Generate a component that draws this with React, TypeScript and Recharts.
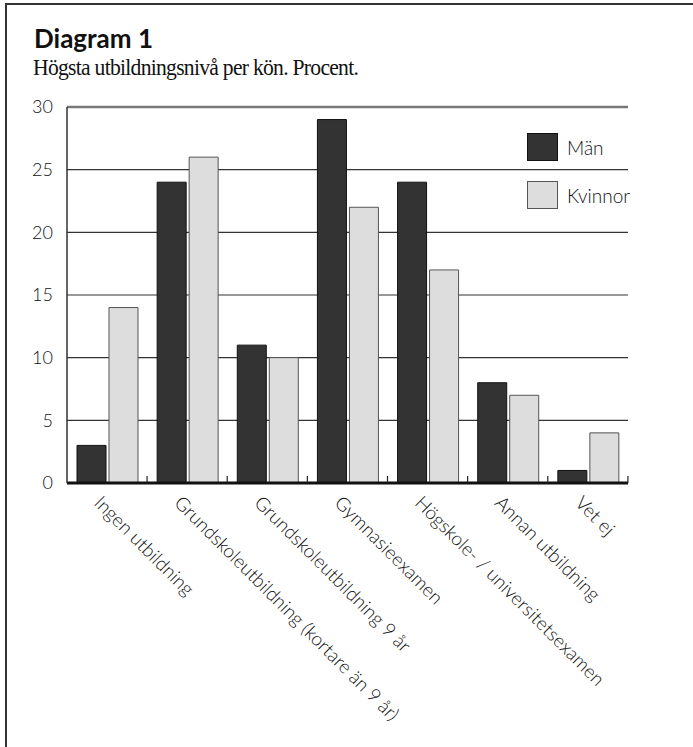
import React from "react";
import {
  BarChart,
  Bar,
  XAxis,
  YAxis,
  CartesianGrid,
  ReferenceLine
} from "recharts";

const categories = [
  "Ingen utbildning",
  "Grundskoleutbildning (kortare än 9 år)",
  "Grundskoleutbildning 9 år",
  "Gymnasieexamen",
  "Högskole- / universitetsexamen",
  "Annan utbildning",
  "Vet ej"
];
const man = [3, 24, 11, 29, 24, 8, 1];
const kvinnor = [14, 26, 10, 22, 17, 7, 4];
const yTicks = [0, 5, 10, 15, 20, 25, 30];

const data = categories.map((name, i) => ({ name, man: man[i], kvinnor: kvinnor[i] }));

const SANS = "Lato, 'Open Sans', sans-serif";
const W = 693;
const H = 747;
const PLOT_BOTTOM = 483;
const BAND = 80;

// rotated category label + boundary tick mark pointing up into the plot
const CategoryTick = (props: any) => {
  const { x, payload } = props;
  return (
    <g>
      <line
        x1={x + BAND / 2}
        x2={x + BAND / 2}
        y1={PLOT_BOTTOM}
        y2={PLOT_BOTTOM - 7}
        stroke="#222"
        strokeWidth={1.2}
      />
      <g transform={`translate(${x - 14},${PLOT_BOTTOM + 21})`}>
        <text
          transform="rotate(45)"
          textAnchor="start"
          fill="#111"
          fontSize={19}
          fontWeight={300}
          fontFamily={SANS}
        >
          {payload.value}
        </text>
      </g>
    </g>
  );
};

const legendItems = [
  { label: "Män", fill: "#333333", stroke: "#111" },
  { label: "Kvinnor", fill: "#dddddd", stroke: "#555" }
];

export default function App() {
  return (
    <div style={{ position: "absolute", left: 0, top: 0, width: W, height: H, background: "#fff" }}>
      <div style={{ position: "absolute", left: 5, top: 3, width: W - 5, height: 2, background: "#333" }} />
      <div style={{ position: "absolute", left: 5, top: 3, width: 2, height: H - 3, background: "#333" }} />
      <div
        style={{
          position: "absolute",
          left: 34,
          top: 23,
          fontFamily: SANS,
          fontWeight: 700,
          fontSize: 26,
          color: "#111",
          lineHeight: "30px"
        }}
      >
        Diagram 1
      </div>
      <div
        style={{
          position: "absolute",
          left: 33,
          top: 52,
          fontFamily: "'Liberation Serif', 'DejaVu Serif', serif",
          fontSize: 24,
          letterSpacing: -0.8,
          color: "#111",
          lineHeight: "30px",
          whiteSpace: "nowrap",
          transform: "scaleX(0.9)",
          transformOrigin: "left center"
        }}
      >
        Högsta utbildningsnivå per kön. Procent.
      </div>
      <div style={{ position: "absolute", left: 0, top: 0 }}>
        <BarChart
          width={W}
          height={H}
          data={data}
          margin={{ top: 107, right: 65, left: 0, bottom: 14 }}
          barCategoryGap={10}
          barGap={3}
        >
          <CartesianGrid vertical={false} stroke="#333" strokeWidth={1.2} />
          <ReferenceLine y={30} stroke="#777" strokeWidth={2.5} />
          <XAxis
            dataKey="name"
            height={250}
            interval={0}
            tickLine={false}
            axisLine={{ stroke: "#111", strokeWidth: 3 }}
            tick={<CategoryTick />}
          />
          <YAxis
            width={67}
            domain={[0, 30]}
            ticks={yTicks}
            tickLine={false}
            axisLine={{ stroke: "#333", strokeWidth: 1.5 }}
            tickMargin={8}
            tick={{ fill: "#111", fontSize: 18, fontFamily: SANS, fontWeight: 300 }}
          />
          <Bar dataKey="man" name="Män" fill="#333333" stroke="#111" strokeWidth={1} isAnimationActive={false} />
          <Bar dataKey="kvinnor" name="Kvinnor" fill="#dddddd" stroke="#555" strokeWidth={1} isAnimationActive={false} />
        </BarChart>
      </div>
      <div style={{ position: "absolute", left: 527, top: 123 }}>
        {legendItems.map((it) => (
          <div key={it.label} style={{ display: "flex", alignItems: "center", height: 48 }}>
            <div
              style={{
                width: 29,
                height: 26,
                background: it.fill,
                border: `1px solid ${it.stroke}`,
                marginRight: 9
              }}
            />
            <span style={{ fontFamily: SANS, fontWeight: 300, fontSize: 19, color: "#111" }}>
              {it.label}
            </span>
          </div>
        ))}
      </div>
    </div>
  );
}
